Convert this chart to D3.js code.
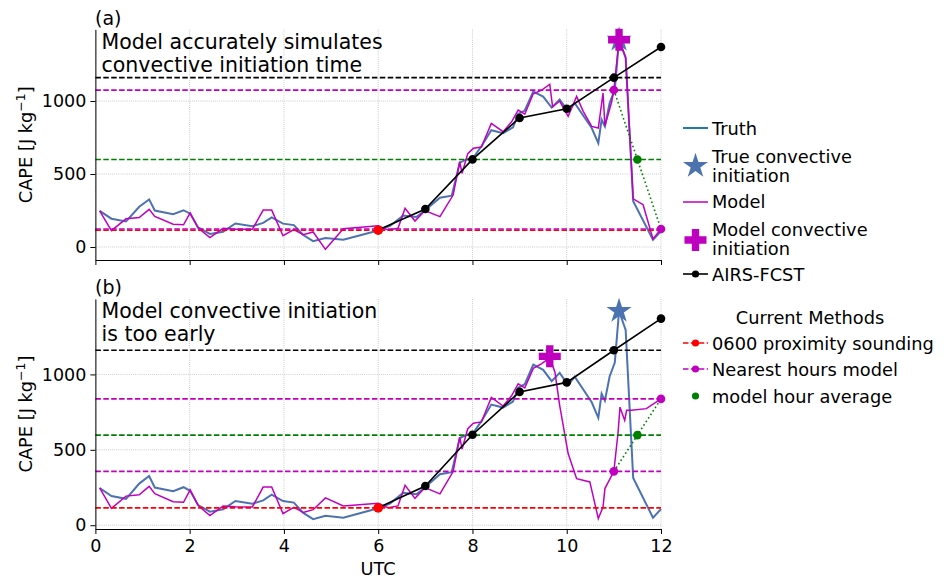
<!DOCTYPE html>
<html>
<head>
<meta charset="utf-8">
<script src="https://cdn.jsdelivr.net/npm/d3@7"></script>
<style>
  body { margin: 0; background: #fff; }
  text { font-family: "DejaVu Sans", sans-serif; }
</style>
</head>
<body>
<div id="chart"></div>
<script>
var W = 950, H = 581;
var FONT = '"DejaVu Sans", sans-serif';

// hours UTC / CAPE [J kg-1]
var truthT = [0.09, 0.34, 0.65, 0.93, 1.14, 1.26, 1.65, 1.87, 2.01, 2.18, 2.43, 2.71, 2.97, 3.33, 3.56, 3.74, 3.98, 4.21, 4.41, 4.62, 4.88, 5.26, 6.0,
  6.25, 6.53, 6.81, 6.99, 7.31, 7.56, 7.73, 7.88, 8.02, 8.19, 8.40, 8.65, 8.86, 8.97, 9.11, 9.29, 9.50, 9.68, 9.85, 10.03, 10.17, 10.53, 10.67, 10.74,
  10.81, 10.91, 11.02, 11.11, 11.25, 11.41, 11.83, 12.0];
var truthV = [247, 194, 175, 276, 326, 250, 225, 252, 228, 134, 90, 105, 161, 142, 165, 203, 160, 150, 82, 40, 62, 50, 113,
  144, 215, 205, 250, 338, 352, 578, 600, 612, 690, 800, 780, 820, 912, 935, 1065, 1030, 955, 1010, 930, 985, 815, 712, 872,
  826, 986, 1078, 1420, 1295, 313, 50, 107];

var modelAT = [0.09, 0.34, 0.65, 0.93, 1.14, 1.26, 1.65, 1.87, 2.01, 2.18, 2.43, 2.71, 2.97, 3.33, 3.56, 3.74, 3.98, 4.21, 4.41, 4.62, 4.88, 5.26, 6.0,
  6.21, 6.42, 6.57, 6.78, 6.99, 7.31, 7.59, 7.73, 7.78, 7.9, 8.02, 8.19, 8.40, 8.65, 8.83, 8.97, 9.11, 9.29, 9.47, 9.64, 9.7, 9.85, 10.03, 10.21,
  10.35, 10.53, 10.67, 10.77, 10.81, 10.95, 11.0, 11.11, 11.25, 11.41, 11.62, 11.83, 12.0];
var modelAV = [247, 112, 193, 202, 258, 209, 156, 152, 234, 130, 64, 128, 122, 121, 253, 253, 77, 119, 84, 103, -16, 125, 146,
  116, 128, 265, 178, 249, 208, 356, 584, 505, 640, 676, 685, 847, 790, 858, 938, 910, 1050, 1075, 1115, 960, 1000, 895, 1032,
  929, 826, 815, 1055, 830, 990, 1075, 1420, 1300, 330, 290, 55, 123];

var modelBT = [0.09, 0.34, 0.65, 0.93, 1.14, 1.26, 1.65, 1.87, 2.01, 2.18, 2.43, 2.71, 2.97, 3.33, 3.56, 3.74, 3.98, 4.21, 4.41, 4.62, 4.88, 5.26, 6.0,
  6.21, 6.42, 6.57, 6.78, 6.99, 7.31, 7.59, 7.73, 7.78, 7.9, 8.02, 8.19, 8.40, 8.65, 8.83, 8.97, 9.11, 9.29, 9.47, 9.64, 9.75, 9.85, 10.03, 10.21,
  10.49, 10.67, 10.77, 10.81, 11.0, 11.09, 11.13, 11.23, 11.27, 11.37, 11.69, 12.0];
var modelBV = [247, 112, 193, 202, 258, 209, 156, 152, 234, 130, 64, 128, 122, 121, 253, 253, 77, 119, 84, 103, 181, 128, 146,
  116, 128, 265, 178, 249, 208, 356, 584, 505, 640, 676, 685, 847, 790, 858, 938, 910, 1040, 1071, 1110, 1015, 795, 475, 309,
  287, 44, 121, 243, 357, 618, 783, 695, 762, 762, 773, 838];

var airsT = [6, 7, 8, 9, 10, 11, 12];
var airsV = [116, 260, 600, 884, 947, 1160, 1370];

var soundingV = 115;            // 0600 proximity sounding
var nearestHours = [11, 12];
var nearestA = [1075, 123];     // nearest hours model, panel a
var nearestB = [357, 838];      // nearest hours model, panel b
var averageT = 11.5;
var airsDashV = 1160;

var trueCI = [11.11, 1420];
var modelCIA = [11.11, 1420];
var modelCIB = [9.64, 1120];

var xTicks = [0, 2, 4, 6, 8, 10, 12];
var yTicks = [0, 500, 1000];

var cTruth = '#4c72b0', cModel = '#bf00bf', cGreen = '#008000', cRed = '#ff0000';

var svg = d3.select('#chart').append('svg')
  .attr('width', W)
  .attr('height', H);

var x = d3.scaleLinear().domain([0, 12]).range([95.4, 661]);

var panels = [
  { title: '(a)', note: ['Model accurately simulates', 'convective initiation time'],
    y: d3.scaleLinear().domain([-89, 1490]).range([260, 29.5]),
    mT: modelAT, mV: modelAV, near: nearestA, mci: modelCIA, labels: false },
  { title: '(b)', note: ['Model convective initiation', 'is too early'],
    y: d3.scaleLinear().domain([-25, 1500]).range([529, 299]),
    mT: modelBT, mV: modelBV, near: nearestB, mci: modelCIB, labels: true }
];

function starPath(r) {
  return d3.symbol().type(d3.symbolStar).size(r * r / 0.8908130915292852)();
}
function plusPath(s) {
  var a = s, b = s / 3;
  return 'M' + -b + ',' + -a + 'H' + b + 'V' + -b + 'H' + a + 'V' + b + 'H' + b + 'V' + a +
    'H' + -b + 'V' + b + 'H' + -a + 'V' + -b + 'H' + -b + 'Z';
}

function drawPanel(p) {
  var y = p.y;
  var top = y.range()[1], bottom = y.range()[0];
  var g = svg.append('g');
  var line = d3.line().x(function(d){ return x(d[0]); }).y(function(d){ return y(d[1]); });

  // grid
  g.selectAll('.gx').data(xTicks).enter().append('line')
    .attr('x1', function(d){ return x(d); }).attr('x2', function(d){ return x(d); })
    .attr('y1', top).attr('y2', bottom)
    .attr('stroke', '#b0b0b0').attr('stroke-width', 0.8).attr('stroke-dasharray', '0.8,1.3');
  g.selectAll('.gy').data(yTicks).enter().append('line')
    .attr('x1', x(0)).attr('x2', x(12))
    .attr('y1', function(d){ return y(d); }).attr('y2', function(d){ return y(d); })
    .attr('stroke', '#b0b0b0').attr('stroke-width', 0.8).attr('stroke-dasharray', '0.8,1.3');

  // series
  g.append('path').datum(d3.zip(truthT, truthV)).attr('d', line)
    .attr('fill', 'none').attr('stroke', cTruth).attr('stroke-width', 2);
  g.append('path').datum(d3.zip(p.mT, p.mV)).attr('d', line)
    .attr('fill', 'none').attr('stroke', cModel).attr('stroke-width', 1.5);

  // current methods, dashed levels
  var avg = (p.near[0] + p.near[1]) / 2;
  var levels = [
    { v: soundingV, c: cRed },
    { v: p.near[1], c: cModel },
    { v: p.near[0], c: cModel },
    { v: avg, c: cGreen },
    { v: airsDashV, c: '#000' }
  ];
  g.selectAll('.lv').data(levels).enter().append('line')
    .attr('x1', x(0)).attr('x2', x(12))
    .attr('y1', function(d){ return y(d.v); }).attr('y2', function(d){ return y(d.v); })
    .attr('stroke', function(d){ return d.c; }).attr('stroke-width', 1.6)
    .attr('stroke-dasharray', '5.5,2.4');

  // model hour average, dotted
  g.append('path').datum([[nearestHours[0], p.near[0]], [averageT, avg], [nearestHours[1], p.near[1]]])
    .attr('d', line).attr('fill', 'none').attr('stroke', cGreen).attr('stroke-width', 1.6)
    .attr('stroke-dasharray', '1.6,2.6');

  // AIRS-FCST
  var airs = d3.zip(airsT, airsV);
  g.append('path').datum(airs).attr('d', line)
    .attr('fill', 'none').attr('stroke', '#000').attr('stroke-width', 1.6);
  g.selectAll('.ad').data(airs).enter().append('circle')
    .attr('cx', function(d){ return x(d[0]); }).attr('cy', function(d){ return y(d[1]); })
    .attr('r', 4.3).attr('fill', '#000');

  g.append('circle').attr('cx', x(6)).attr('cy', y(soundingV)).attr('r', 4.8).attr('fill', cRed);
  g.selectAll('.nd').data(nearestHours).enter().append('circle')
    .attr('cx', function(d){ return x(d); }).attr('cy', function(d, i){ return y(p.near[i]); })
    .attr('r', 4.3).attr('fill', cModel);
  g.append('circle').attr('cx', x(averageT)).attr('cy', y(avg)).attr('r', 4.3).attr('fill', cGreen);

  // initiation markers
  g.append('path').attr('d', starPath(13.2))
    .attr('transform', 'translate(' + x(trueCI[0]) + ',' + y(trueCI[1]) + ')')
    .attr('fill', cTruth);
  g.append('path').attr('d', plusPath(11))
    .attr('transform', 'translate(' + x(p.mci[0]) + ',' + y(p.mci[1]) + ')')
    .attr('fill', cModel);

  // axes
  var ya = g.append('g').attr('transform', 'translate(' + x(0) + ',0)')
    .call(d3.axisLeft(y).tickValues(yTicks).tickFormat(d3.format('d'))
      .tickSize(5).tickSizeOuter(0).tickPadding(4));
  var xAxis = d3.axisBottom(x).tickValues(xTicks).tickFormat(d3.format('d'))
    .tickSize(5).tickSizeOuter(0).tickPadding(6);
  if (!p.labels) xAxis.tickFormat('');
  var xa = g.append('g').attr('transform', 'translate(0,' + bottom + ')').call(xAxis);
  [ya, xa].forEach(function(a){
    a.attr('font-family', FONT).attr('font-size', 17.5);
    a.selectAll('text').attr('fill', '#000');
    a.selectAll('line, path').attr('stroke', '#000').attr('stroke-width', 1);
  });

  // labels
  g.append('text').attr('x', 95).attr('y', top - 5).style('font-size', '19px').text(p.title);
  var yl = g.append('text')
    .attr('transform', 'translate(32,' + (top + bottom) / 2 + ') rotate(-90)')
    .attr('text-anchor', 'middle').style('font-size', '17.8px');
  yl.append('tspan').text('CAPE [J kg');
  yl.append('tspan').attr('dy', -7).style('font-size', '12.5px').text('\u22121');
  yl.append('tspan').attr('dy', 7).text(']');

  p.note.forEach(function(t, i){
    g.append('text').attr('x', 101.5).attr('y', top + 19 + i * 23)
      .style('font-size', '20.5px').text(t);
  });
}

panels.forEach(drawPanel);

svg.append('text').attr('x', 378).attr('y', 575).attr('text-anchor', 'middle')
  .style('font-size', '17.8px').text('UTC');

// legend
var lg = svg.append('g').style('font-size', '17.8px');
var lx0 = 683, lx1 = 708, lmx = 695.5, ltx = 712;

function legText(lines, ys) {
  lines.forEach(function(t, i){
    lg.append('text').attr('x', ltx).attr('y', ys[i]).text(t);
  });
}
lg.append('line').attr('x1', lx0).attr('x2', lx1).attr('y1', 128).attr('y2', 128)
  .attr('stroke', '#1f77b4').attr('stroke-width', 2);
legText(['Truth'], [134.5]);

lg.append('path').attr('d', starPath(13.2)).attr('transform', 'translate(' + lmx + ',166)').attr('fill', cTruth);
legText(['True convective', 'initiation'], [162.5, 181.5]);

lg.append('line').attr('x1', lx0).attr('x2', lx1).attr('y1', 202).attr('y2', 202)
  .attr('stroke', cModel).attr('stroke-width', 1.5);
legText(['Model'], [208]);

lg.append('path').attr('d', plusPath(11)).attr('transform', 'translate(' + lmx + ',240)').attr('fill', cModel);
legText(['Model convective', 'initiation'], [235.5, 254.5]);

lg.append('line').attr('x1', lx0).attr('x2', lx1).attr('y1', 274).attr('y2', 274)
  .attr('stroke', '#000').attr('stroke-width', 1.6);
lg.append('circle').attr('cx', lmx).attr('cy', 274).attr('r', 3.6).attr('fill', '#000');
legText(['AIRS-FCST'], [280.5]);

lg.append('text').attr('x', 810).attr('y', 323.5).attr('text-anchor', 'middle').text('Current Methods');

var methods = [
  { label: '0600 proximity sounding', c: cRed, y: 343, dash: true },
  { label: 'Nearest hours model', c: cModel, y: 369, dash: true },
  { label: 'model hour average', c: cGreen, y: 396, dash: false }
];
methods.forEach(function(m){
  if (m.dash) {
    lg.append('line').attr('x1', lx0).attr('x2', lx1).attr('y1', m.y).attr('y2', m.y)
      .attr('stroke', m.c).attr('stroke-width', 1.6).attr('stroke-dasharray', '5.5,2.4');
  }
  lg.append('circle').attr('cx', lmx).attr('cy', m.y).attr('r', 3.6).attr('fill', m.c);
  legText([m.label], [m.y + 6.5]);
});
</script>
</body>
</html>
